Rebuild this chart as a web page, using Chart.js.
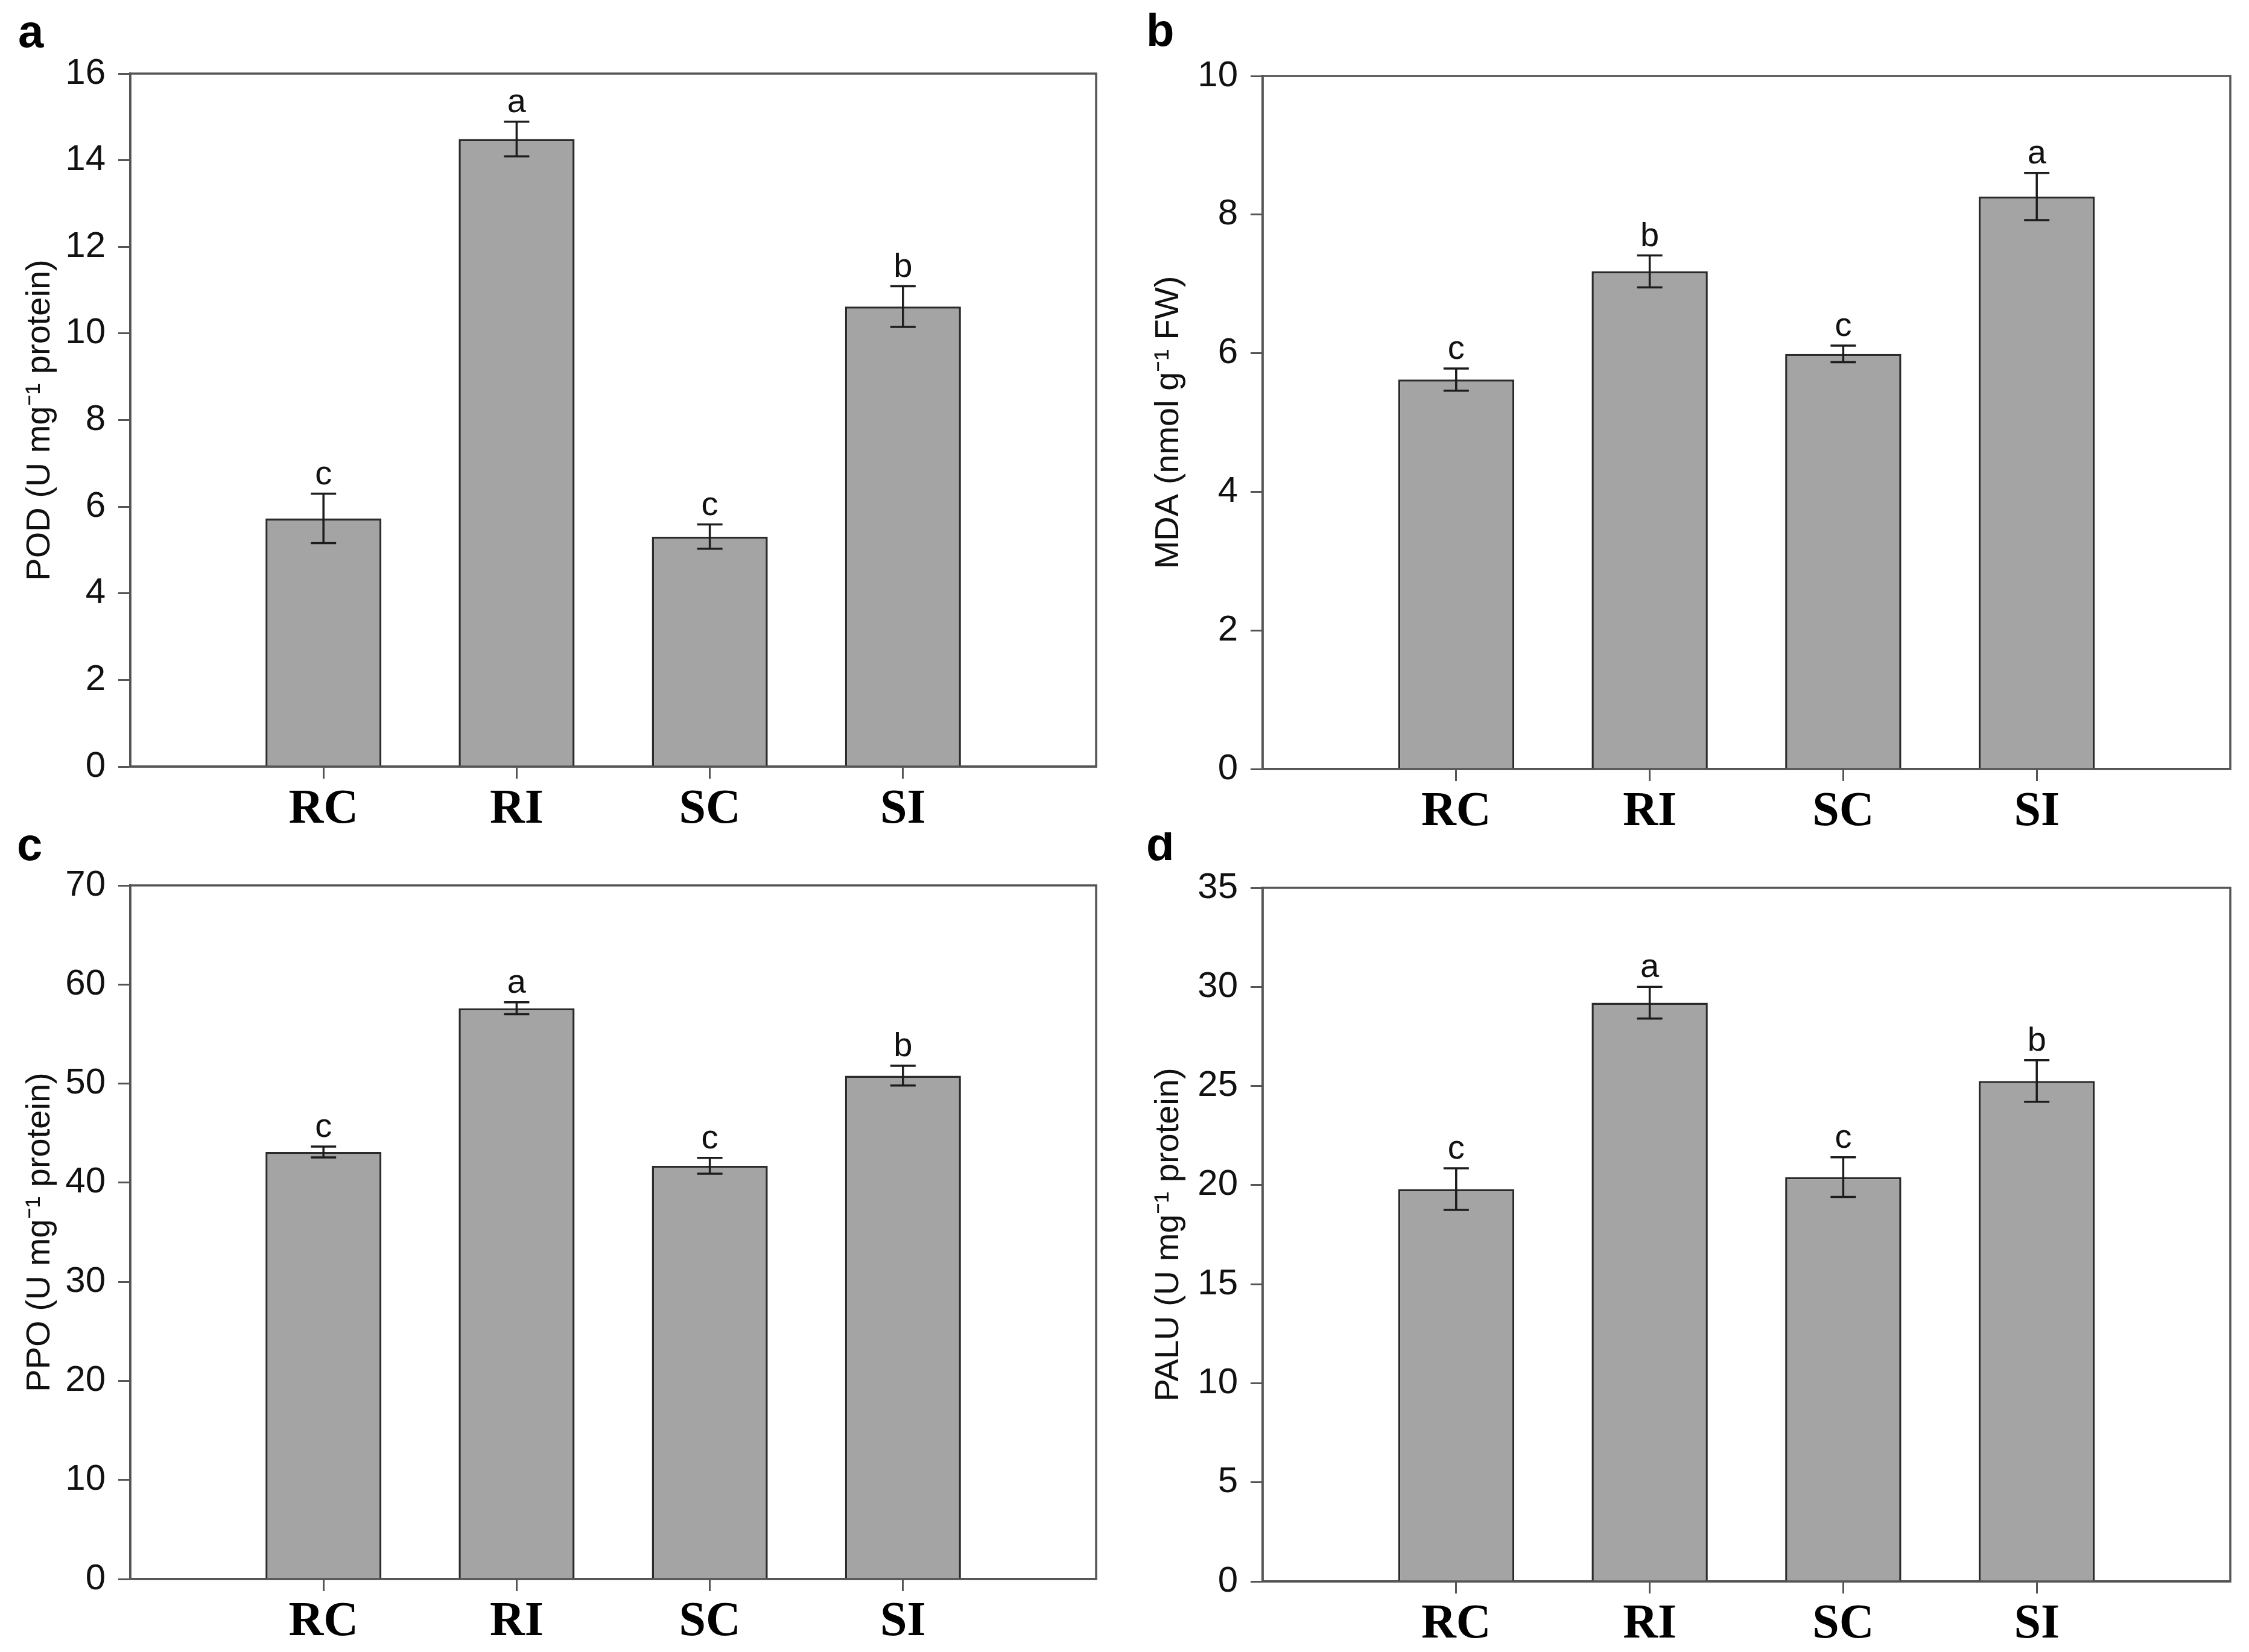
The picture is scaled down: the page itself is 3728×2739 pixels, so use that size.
<!DOCTYPE html>
<html>
<head>
<meta charset="utf-8">
<title>POD, MDA, PPO and PALU</title>
<script src="https://cdn.jsdelivr.net/npm/chart.js@4.4.1/dist/chart.umd.min.js"></script>
<style>
  html, body { margin: 0; padding: 0; background: #fff; }
  body { width: 3728px; height: 2739px; position: relative; overflow: hidden; }
  .panel { position: absolute; }
</style>
</head>
<body>
<div class="panel" style="left:0;top:0;width:1860px;height:1380px"><canvas id="chartA"></canvas></div>
<div class="panel" style="left:1860px;top:0;width:1868px;height:1380px"><canvas id="chartB"></canvas></div>
<div class="panel" style="left:0;top:1380px;width:1860px;height:1359px"><canvas id="chartC"></canvas></div>
<div class="panel" style="left:1860px;top:1380px;width:1868px;height:1359px"><canvas id="chartD"></canvas></div>
<script>
// treatments on the x axis
const categories = ['RC', 'RI', 'SC', 'SI'];

// a - POD
const podMeans = [5.73, 14.49, 5.31, 10.62];
const podErrors = [0.57, 0.40, 0.28, 0.47];
const podLetters = ['c', 'a', 'c', 'b'];
const podAxis = [0, 16, 2]; // min, max, step

// b - MDA
const mdaMeans = [5.62, 7.18, 5.99, 8.26];
const mdaErrors = [0.16, 0.23, 0.12, 0.34];
const mdaLetters = ['c', 'b', 'c', 'a'];
const mdaAxis = [0, 10, 2];

// c - PPO
const ppoMeans = [43.1, 57.6, 41.7, 50.8];
const ppoErrors = [0.55, 0.6, 0.8, 1.0];
const ppoLetters = ['c', 'a', 'c', 'b'];
const ppoAxis = [0, 70, 10];

// d - PALU
const paluMeans = [19.8, 29.2, 20.4, 25.25];
const paluErrors = [1.05, 0.8, 1.0, 1.05];
const paluLetters = ['c', 'a', 'c', 'b'];
const paluAxis = [0, 35, 5];

const SANS = "'Liberation Sans', Arial, sans-serif";
const SERIF = "'Liberation Serif', 'Times New Roman', serif";
const AXIS_GRAY = '#555555';

// box around the plot area (SigmaPlot style frame)
const frame = {
  id: 'frame',
  afterDraw(chart) {
    const { ctx, chartArea: a } = chart;
    ctx.save();
    ctx.strokeStyle = AXIS_GRAY;
    ctx.lineWidth = 3.5;
    ctx.strokeRect(a.left, a.top, a.right - a.left, a.bottom - a.top);
    ctx.restore();
  }
};

// error bars + significance letters, placed through the y scale
const errorBars = {
  id: 'errorBars',
  afterDatasetsDraw(chart, args, opts) {
    const { ctx } = chart;
    const yScale = chart.scales.y;
    const meta = chart.getDatasetMeta(0);
    ctx.save();
    ctx.strokeStyle = '#1c1c1c';
    ctx.lineWidth = 3.5;
    ctx.fillStyle = '#111';
    ctx.font = '56px ' + SANS;
    ctx.textAlign = 'center';
    ctx.textBaseline = 'alphabetic';
    meta.data.forEach((bar, i) => {
      const cx = bar.x;
      const hi = yScale.getPixelForValue(opts.means[i] + opts.errors[i]);
      const lo = yScale.getPixelForValue(opts.means[i] - opts.errors[i]);
      const cap = 21;
      ctx.beginPath();
      ctx.moveTo(cx, hi); ctx.lineTo(cx, lo);
      ctx.moveTo(cx - cap, hi); ctx.lineTo(cx + cap, hi);
      ctx.moveTo(cx - cap, lo); ctx.lineTo(cx + cap, lo);
      ctx.stroke();
      ctx.fillText(opts.letters[i], cx, hi - 16);
    });
    ctx.restore();
  }
};

// panel tag (a, b, c, d) in the top-left corner
const panelTag = {
  id: 'panelTag',
  afterDraw(chart, args, opts) {
    const { ctx } = chart;
    ctx.save();
    ctx.fillStyle = '#000';
    ctx.font = 'bold 76px ' + SANS;
    ctx.textAlign = 'left';
    ctx.textBaseline = 'alphabetic';
    ctx.fillText(opts.text, opts.x, opts.y);
    ctx.restore();
  }
};

function makeChart(id, p) {
  const ctx = document.getElementById(id).getContext('2d');
  return new Chart(ctx, {
    type: 'bar',
    data: {
      datasets: [{
        data: categories.map((c, i) => ({ x: i + 1, y: p.means[i] })),
        backgroundColor: '#a4a4a4',
        borderColor: '#2b2b2b',
        borderWidth: 3.5,
        borderSkipped: 'start',
        categoryPercentage: 1,
        barPercentage: 0.6
      }]
    },
    options: {
      responsive: true,
      maintainAspectRatio: false,
      animation: false,
      devicePixelRatio: 1,
      layout: { padding: { left: 0, top: p.top, right: p.right, bottom: 0 } },
      plugins: {
        legend: { display: false },
        tooltip: { enabled: false },
        errorBars: { means: p.means, errors: p.errors, letters: p.letters },
        panelTag: { text: p.tag, x: p.tagX, y: p.tagY }
      },
      scales: {
        x: {
          type: 'linear',
          offset: false,
          min: 0,
          max: categories.length + 1,
          afterBuildTicks: (scale) => {
            scale.ticks = categories.map((c, i) => ({ value: i + 1 }));
          },
          afterFit: (scale) => { scale.height = p.xHeight; },
          ticks: {
            callback: (value) => categories[value - 1],
            color: '#000',
            font: { family: SERIF, size: 80, weight: 'bold' },
            padding: 4,
            maxRotation: 0,
            autoSkip: false
          },
          grid: {
            display: true,
            offset: false,
            drawOnChartArea: false,
            drawTicks: true,
            tickLength: 20,
            tickWidth: 3,
            tickColor: AXIS_GRAY
          },
          border: { display: true, color: AXIS_GRAY, width: 3.5 }
        },
        y: {
          min: p.axis[0],
          max: p.axis[1],
          afterFit: (scale) => { scale.width = p.left; },
          ticks: {
            stepSize: p.axis[2],
            color: '#111',
            font: { family: SANS, size: 60 },
            padding: 21
          },
          grid: {
            display: true,
            drawOnChartArea: false,
            drawTicks: true,
            tickLength: 20,
            tickWidth: 3,
            tickColor: AXIS_GRAY
          },
          border: { display: true, color: AXIS_GRAY, width: 3.5 },
          title: {
            display: true,
            text: p.title,
            color: '#111',
            font: { family: SANS, size: 56 },
            padding: { top: p.titlePad, bottom: 0 }
          }
        }
      }
    },
    plugins: [frame, errorBars, panelTag]
  });
}

makeChart('chartA', {
  means: podMeans, errors: podErrors, letters: podLetters, axis: podAxis,
  title: 'POD (U mg\u207B\u00B9 protein)', tag: 'a', tagX: 30, tagY: 78,
  left: 216, right: 43, top: 122, xHeight: 109, titlePad: 33
});
makeChart('chartB', {
  means: mdaMeans, errors: mdaErrors, letters: mdaLetters, axis: mdaAxis,
  title: 'MDA (nmol g\u207B\u00B9 FW)', tag: 'b', tagX: 40, tagY: 76,
  left: 233, right: 31, top: 126, xHeight: 105, titlePad: 44
});
makeChart('chartC', {
  means: ppoMeans, errors: ppoErrors, letters: ppoLetters, axis: ppoAxis,
  title: 'PPO (U mg\u207B\u00B9 protein)', tag: 'c', tagX: 28, tagY: 46,
  left: 216, right: 43, top: 88, xHeight: 121, titlePad: 33
});
makeChart('chartD', {
  means: paluMeans, errors: paluErrors, letters: paluLetters, axis: paluAxis,
  title: 'PALU (U mg\u207B\u00B9 protein)', tag: 'd', tagX: 40, tagY: 46,
  left: 233, right: 31, top: 92, xHeight: 117, titlePad: 44
});
</script>
</body>
</html>
